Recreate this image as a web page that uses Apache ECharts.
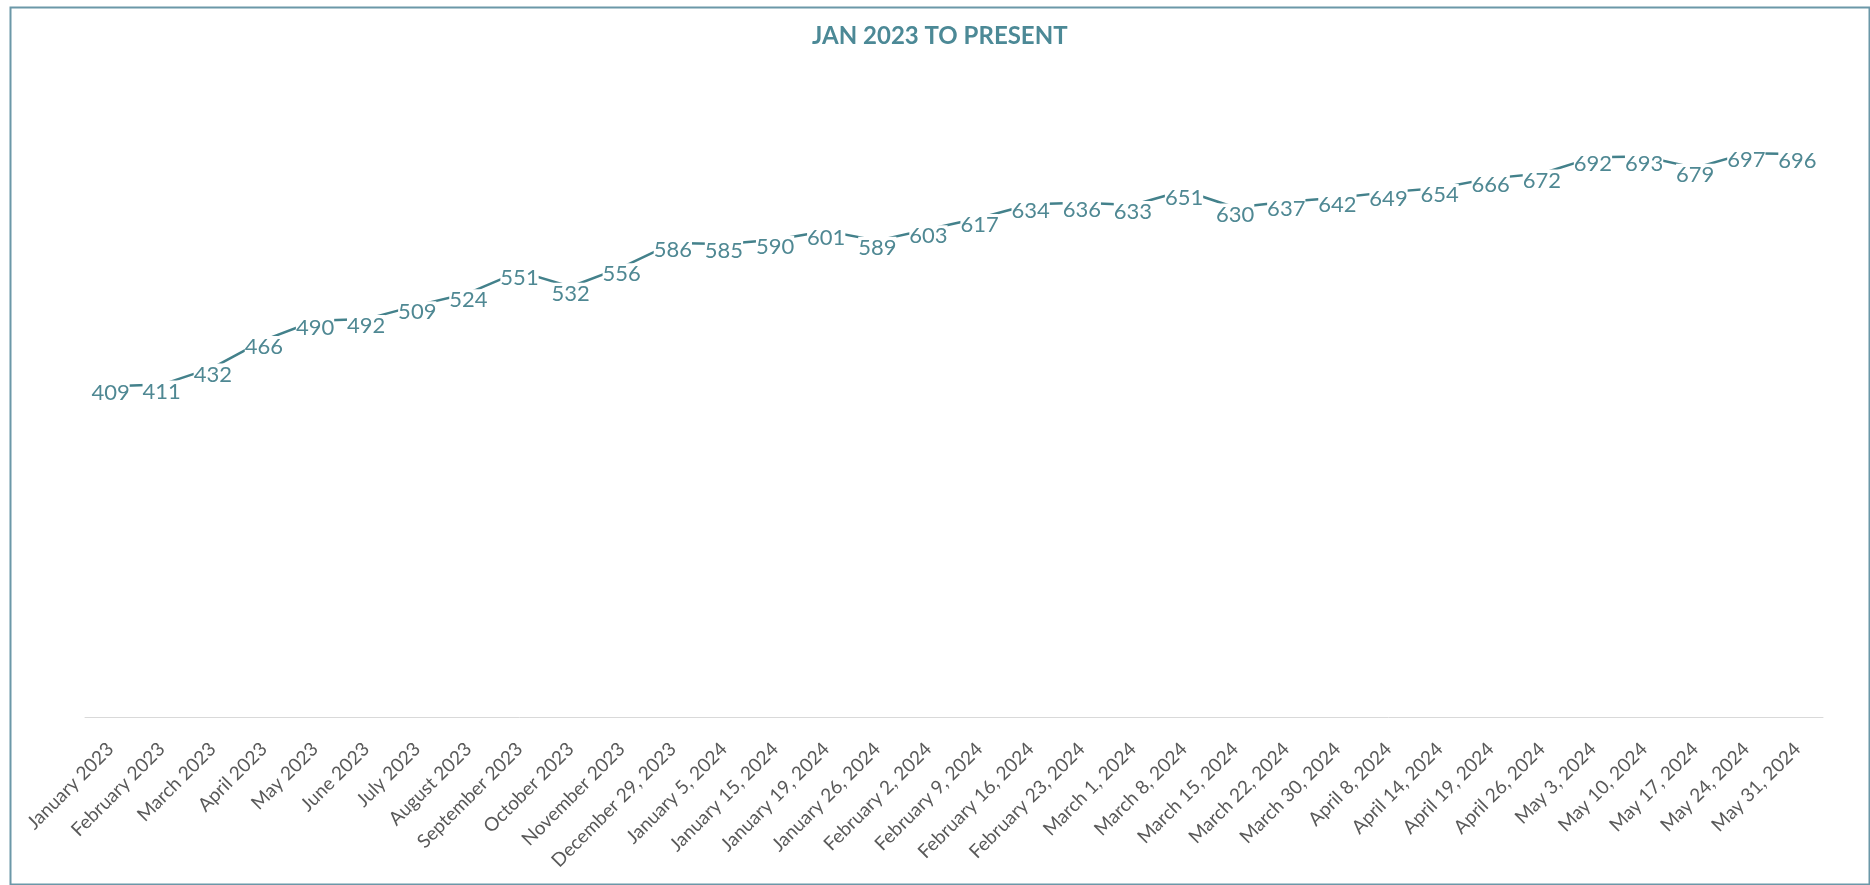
<!DOCTYPE html>
<html>
<head>
<meta charset="utf-8">
<script src="https://cdn.jsdelivr.net/npm/echarts@6/dist/echarts.min.js"></script>
<style>
html,body{margin:0;padding:0;background:#fff;}
#chart{width:1870px;height:885px;}
</style>
</head>
<body>
<div id="chart"></div>
<script>
const titleText = 'JAN 2023 TO PRESENT';
const categories = [
  'January 2023','February 2023','March 2023','April 2023','May 2023','June 2023',
  'July 2023','August 2023','September 2023','October 2023','November 2023','December 29, 2023',
  'January 5, 2024','January 15, 2024','January 19, 2024','January 26, 2024',
  'February 2, 2024','February 9, 2024','February 16, 2024','February 23, 2024',
  'March 1, 2024','March 8, 2024','March 15, 2024','March 22, 2024','March 30, 2024',
  'April 8, 2024','April 14, 2024','April 19, 2024','April 26, 2024',
  'May 3, 2024','May 10, 2024','May 17, 2024','May 24, 2024','May 31, 2024'
];
const values = [
  409,411,432,466,490,492,509,524,551,532,556,586,
  585,590,601,589,603,617,634,636,633,651,630,637,642,
  649,654,666,672,692,693,679,697,696
];
const yMin = 0;
const yMax = 800;

const chart = echarts.init(document.getElementById('chart'));
chart.setOption({
  animation: false,
  backgroundColor: '#ffffff',
  title: {
    text: titleText,
    left: 807,
    top: 19,
    textStyle: {
      fontFamily: 'Lato',
      fontWeight: 'bold',
      fontSize: 24,
      color: '#4c8996'
    }
  },
  graphic: [{
    type: 'rect',
    left: 8,
    top: 5,
    shape: { x: 0, y: 0, width: 1859, height: 877 },
    style: { fill: 'none', stroke: '#6b98a8', lineWidth: 2 },
    silent: true,
    z: -1
  }],
  grid: { left: 85, right: 47, top: 70, bottom: 168 },
  xAxis: {
    type: 'category',
    data: categories,
    boundaryGap: true,
    axisLine: { show: true, lineStyle: { color: '#d9d9d9', width: 1 } },
    axisTick: { show: false },
    axisLabel: {
      interval: 0,
      rotate: 45,
      margin: 29,
      fontFamily: 'Lato',
      fontSize: 19,
      color: '#595959'
    },
    splitLine: { show: false }
  },
  yAxis: {
    type: 'value',
    min: yMin,
    max: yMax,
    show: false,
    splitLine: { show: false }
  },
  series: [{
    type: 'line',
    data: values,
    symbol: 'circle',
    symbolSize: 1,
    showSymbol: true,
    itemStyle: { color: '#43818b' },
    lineStyle: { color: '#43818b', width: 2.5 },
    label: {
      show: true,
      position: 'inside',
      offset: [0, 7],
      fontFamily: 'Lato',
      fontSize: 22,
      color: '#4f8893',
      backgroundColor: '#ffffff',
      padding: [0, 0]
    }
  }]
});
</script>
</body>
</html>
